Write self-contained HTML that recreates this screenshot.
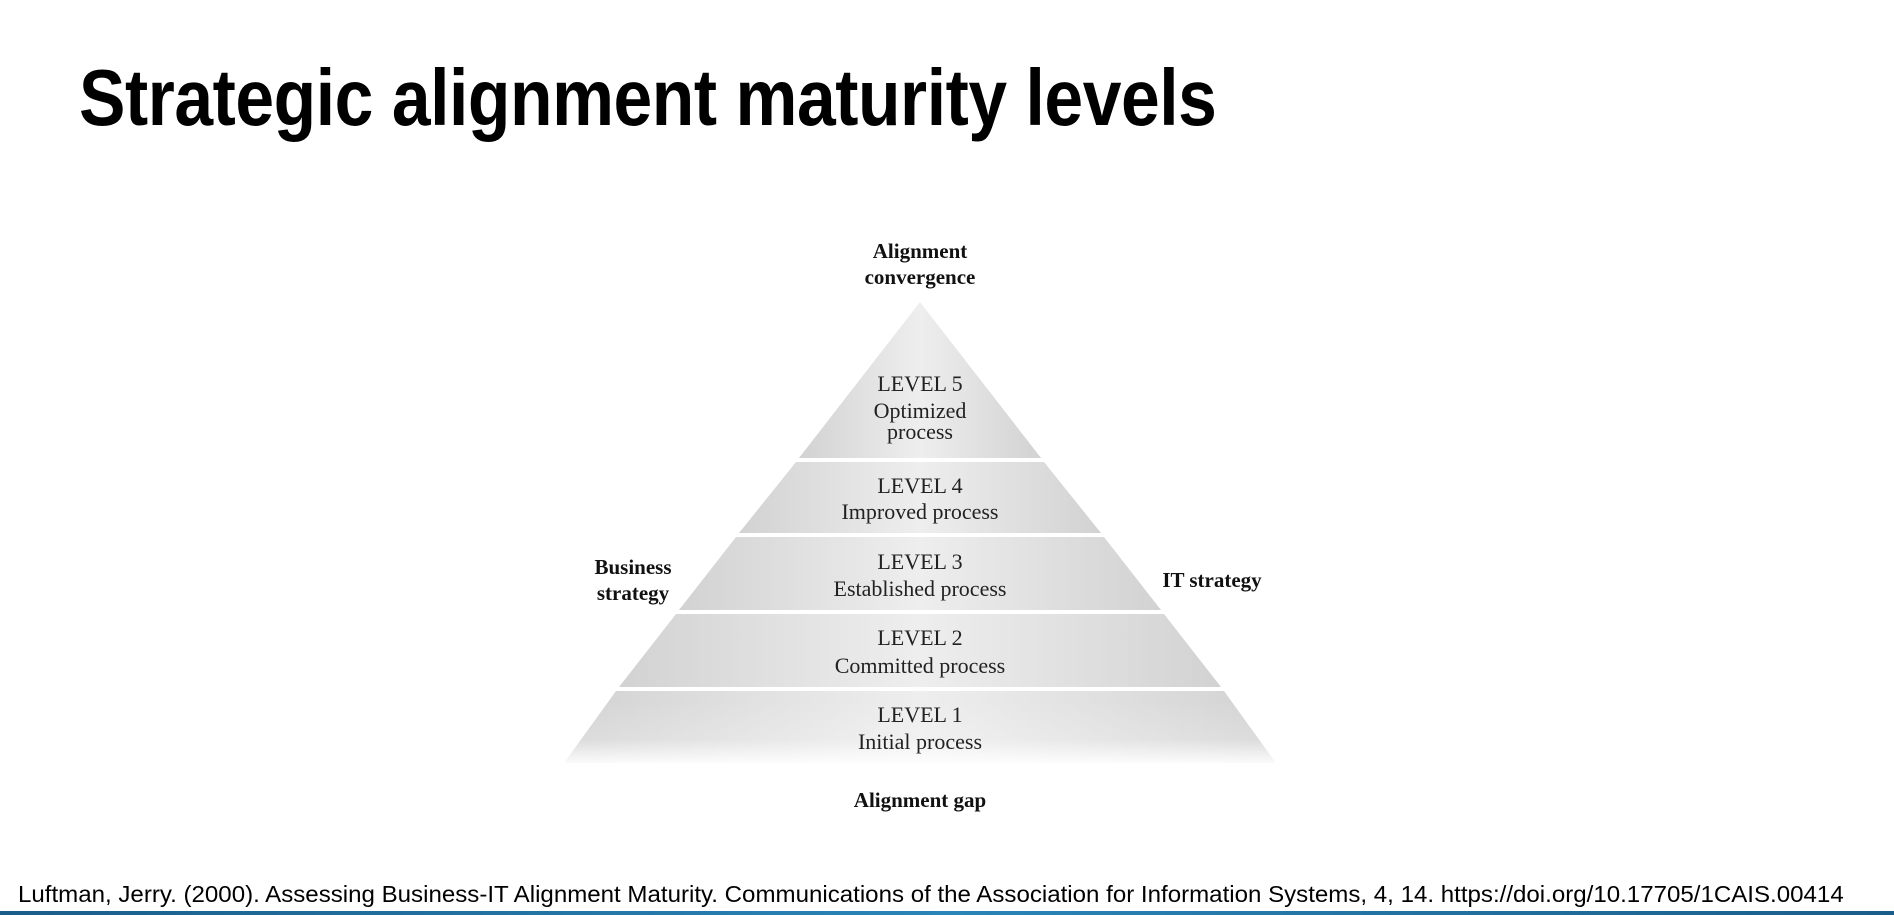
<!DOCTYPE html>
<html><head><style>
body{margin:0;width:1894px;height:915px;background:#fff;overflow:hidden;position:relative;font-family:"Liberation Sans",sans-serif}
.t{position:absolute;left:79px;top:52px;font-size:80px;font-weight:bold;white-space:nowrap;transform:scaleX(0.87);transform-origin:0 0;letter-spacing:-0.5px}
.c{position:absolute;left:18px;top:881px;font-size:23px;white-space:nowrap;transform:scaleX(1.047);transform-origin:0 0}
.bar{position:absolute;left:0;top:911px;width:1894px;height:4px;background:linear-gradient(90deg,#1b5d8a,#2a86b8,#1b5d8a)}
</style></head><body>
<div class="t">Strategic alignment maturity levels</div>
<svg width="1894" height="915" style="position:absolute;left:0;top:0">
<defs>
<linearGradient id="g" x1="0" x2="1"><stop offset="0" stop-color="#d2d2d2"/><stop offset="0.5" stop-color="#eeeeee"/><stop offset="1" stop-color="#d2d2d2"/></linearGradient>
<linearGradient id="f" x1="0" y1="0" x2="0" y2="1"><stop offset="0" stop-color="#fff" stop-opacity="0"/><stop offset="0.6" stop-color="#fff" stop-opacity="0.2"/><stop offset="1" stop-color="#fff" stop-opacity="1"/></linearGradient>
</defs>
<g fill="url(#g)">
<polygon points="920,302 1041,458 799,458"/>
<polygon points="796,462 1044,462 1101,533 739,533"/>
<polygon points="736,537 1104,537 1161,610 679,610"/>
<polygon points="676,614 1164,614 1221,687 619,687"/>
<polygon points="616,691 1224,691 1276,763 564,763"/>
</g>
<rect x="560" y="700" width="720" height="66" fill="url(#f)"/>
<g font-family="Liberation Serif,serif" font-size="22" text-anchor="middle" fill="#222">
<text x="920" y="391">LEVEL 5</text><text x="920" y="418">Optimized</text><text x="920" y="439">process</text>
<text x="920" y="493">LEVEL 4</text><text x="920" y="519">Improved process</text>
<text x="920" y="569">LEVEL 3</text><text x="920" y="596">Established process</text>
<text x="920" y="645">LEVEL 2</text><text x="920" y="673">Committed process</text>
<text x="920" y="722">LEVEL 1</text><text x="920" y="749">Initial process</text>
</g>
<g font-family="Liberation Serif,serif" font-size="21" font-weight="bold" text-anchor="middle" fill="#111">
<text x="920" y="258">Alignment</text><text x="920" y="284">convergence</text>
<text x="633" y="574">Business</text><text x="633" y="600">strategy</text>
<text x="1212" y="587">IT strategy</text>
<text x="920" y="807">Alignment gap</text>
</g>
</svg>
<div class="c">Luftman, Jerry. (2000). Assessing Business-IT Alignment Maturity. Communications of the Association for Information Systems, 4, 14. https://doi.org/10.17705/1CAIS.00414</div>
<div class="bar"></div>
</body></html>
